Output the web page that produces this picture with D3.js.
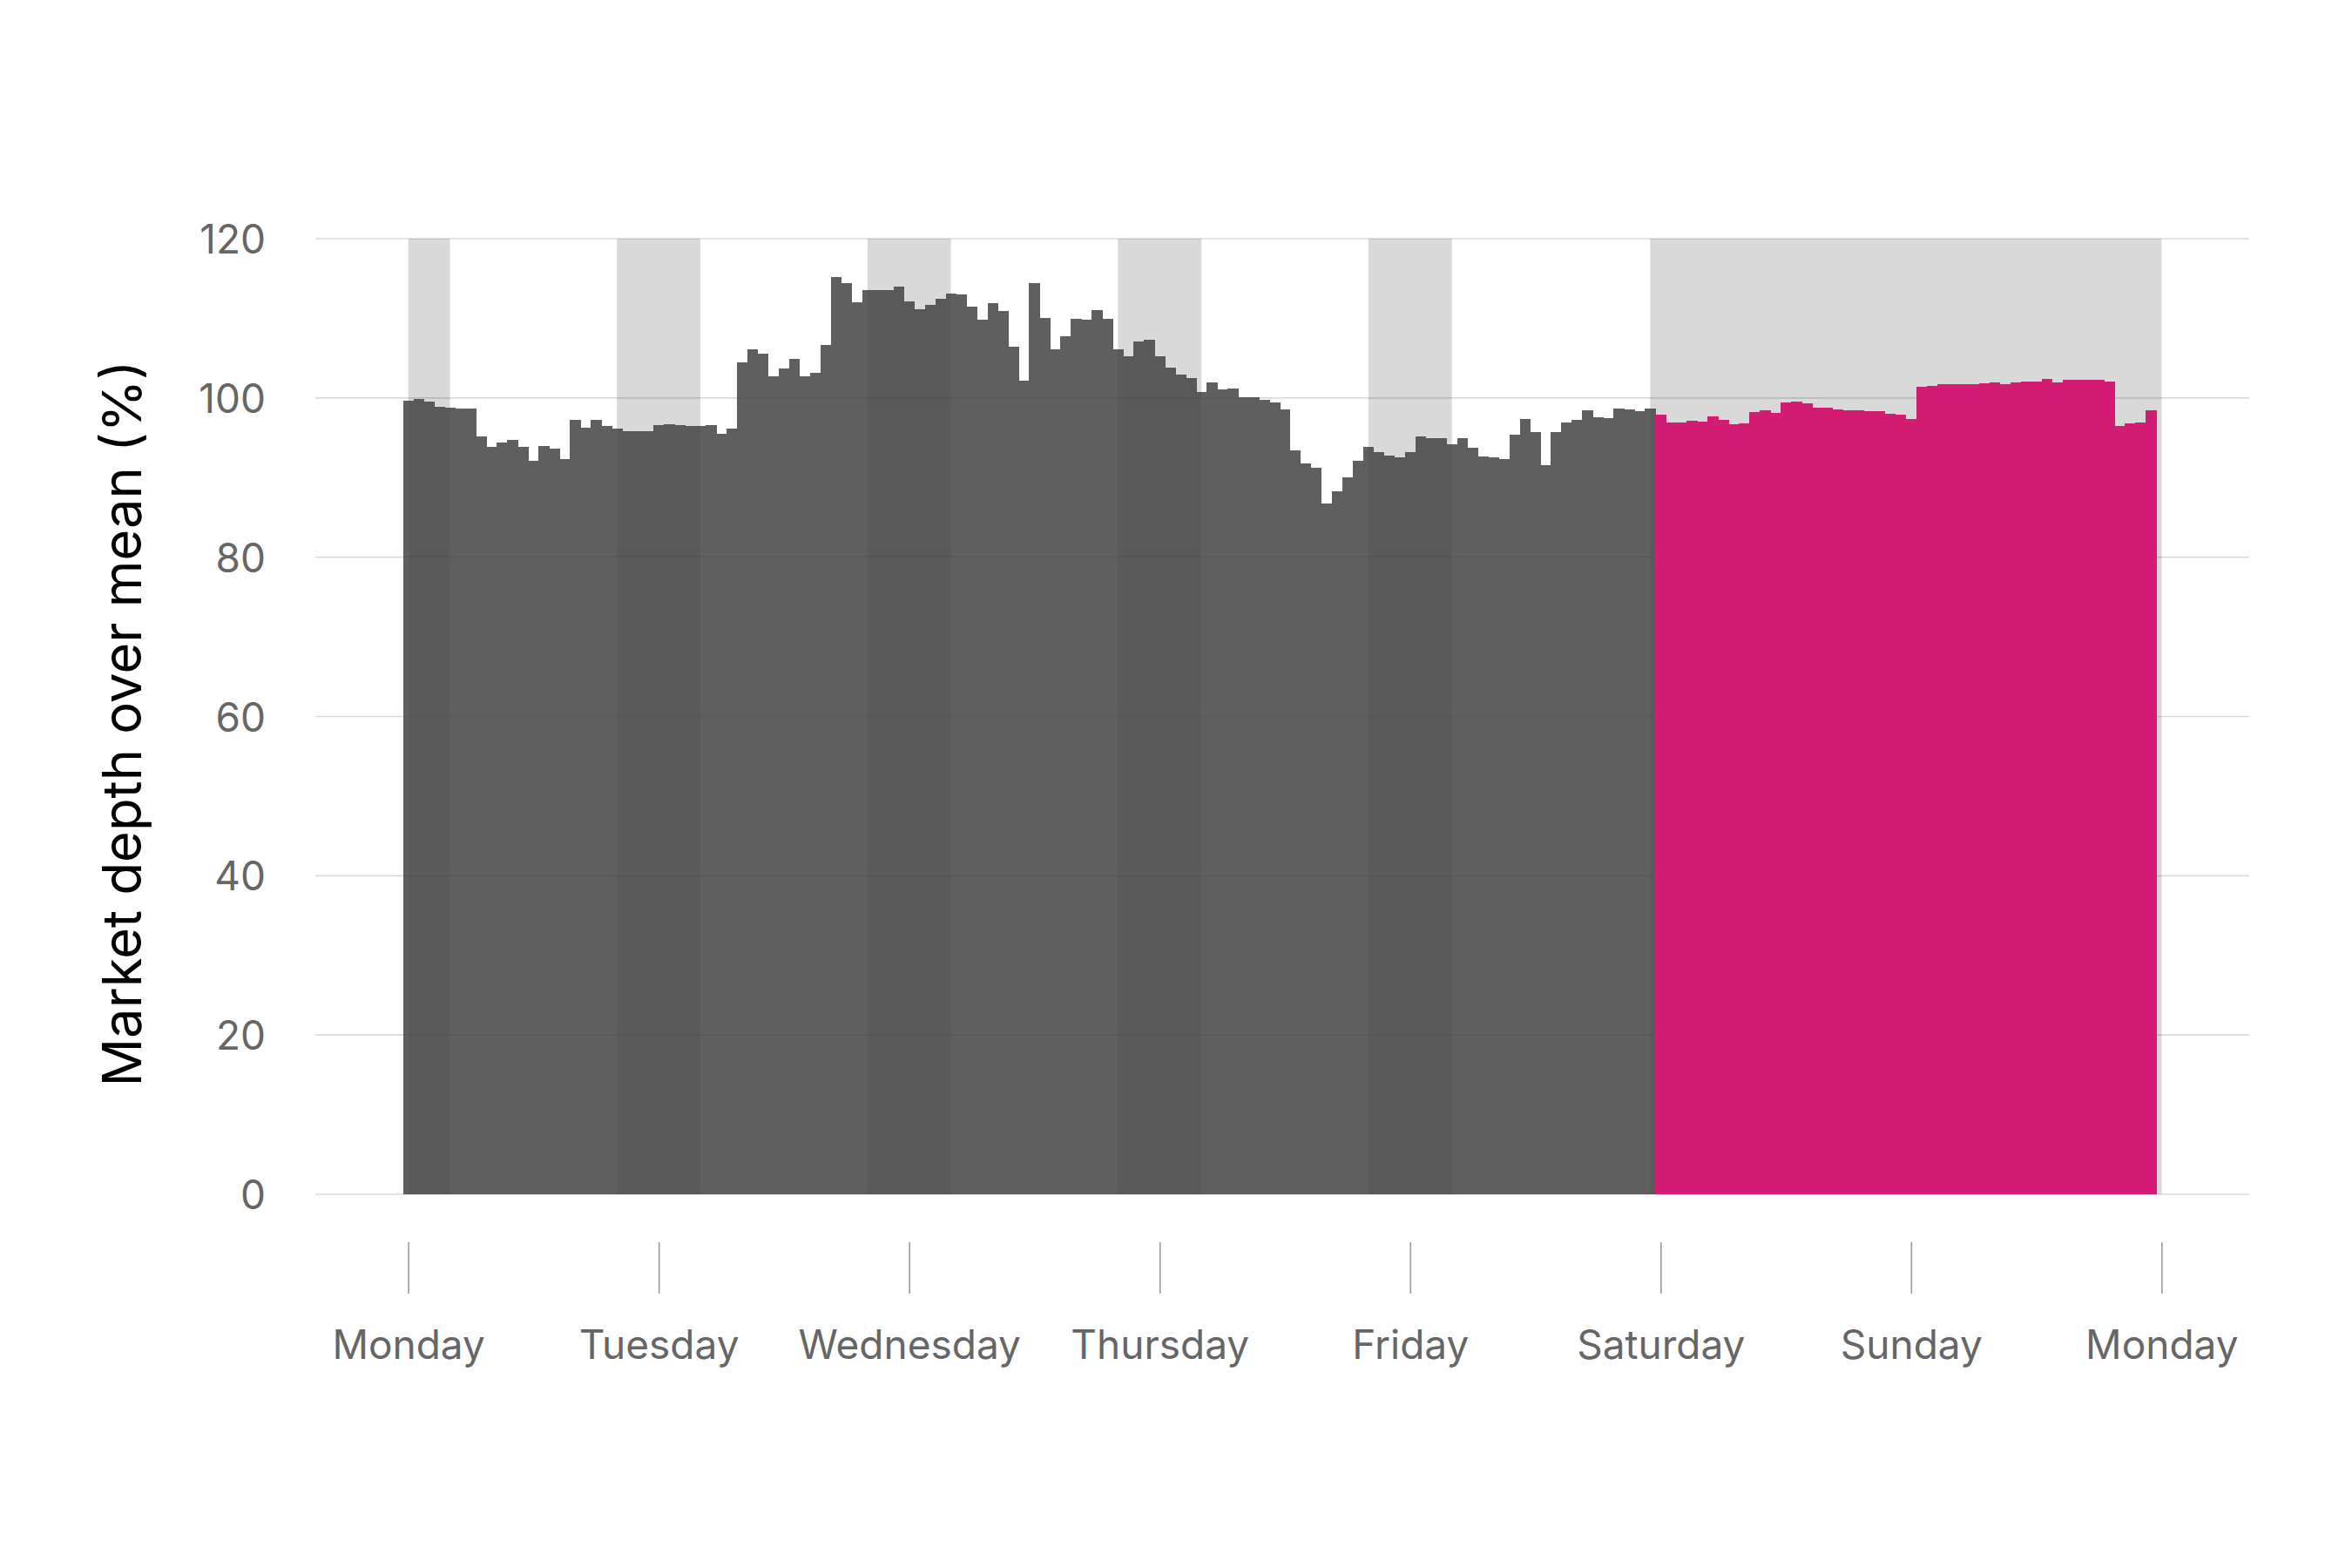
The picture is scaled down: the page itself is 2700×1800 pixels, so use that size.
<!DOCTYPE html>
<html>
<head>
<meta charset="utf-8">
<script src="https://cdn.jsdelivr.net/npm/d3@7"></script>
<style>
  body { margin: 0; background: #fff; }
  svg { display: block; font-family: Inter, "Noto Sans", sans-serif; }
</style>
</head>
<body>
<script>
// hourly market depth over mean (%), Monday 00:00 .. Sunday 23:00
const depth = [
  99.6, 99.85, 99.5, 98.9, 98.8, 98.7, 98.7, 95.2, 93.9, 94.4, 94.7, 93.9,
  92.1, 94.0, 93.6, 92.3, 97.2, 96.3, 97.3, 96.5, 96.2, 95.8, 95.8, 95.8,
  96.6, 96.7, 96.6, 96.5, 96.5, 96.6, 95.5, 96.1, 104.5, 106.1, 105.6, 102.7,
  103.7, 104.9, 102.7, 103.2, 106.6, 115.2, 114.4, 112.0, 113.5, 113.6, 113.5, 114.0,
  112.1, 111.1, 111.7, 112.4, 113.1, 113.0, 111.5, 109.8, 111.9, 110.9, 106.4, 102.2,
  114.4, 110.0, 106.1, 107.7, 109.9, 109.8, 111.0, 109.9, 106.1, 105.2, 107.1, 107.3,
  105.2, 103.8, 102.9, 102.5, 100.8, 102.0, 101.1, 101.2, 100.1, 100.1, 99.8, 99.4,
  98.6, 93.4, 91.8, 91.2, 86.7, 88.3, 90.0, 92.1, 93.9, 93.2, 92.8, 92.5,
  93.2, 95.2, 94.9, 95.0, 94.2, 94.9, 93.8, 92.6, 92.5, 92.3, 95.4, 97.4,
  95.7, 91.6, 95.7, 96.9, 97.3, 98.4, 97.6, 97.5, 98.7, 98.6, 98.3, 98.7,
  97.9, 96.9, 96.9, 97.1, 97.0, 97.7, 97.3, 96.7, 96.8, 98.2, 98.5, 98.1,
  99.4, 99.5, 99.3, 98.8, 98.8, 98.6, 98.5, 98.5, 98.3, 98.3, 98.0, 97.9,
  97.4, 101.4, 101.5, 101.7, 101.7, 101.7, 101.7, 101.8, 101.9, 101.7, 102.0, 102.1,
  102.1, 102.4, 102.0, 102.3, 102.3, 102.3, 102.3, 102.1, 96.5, 96.8, 96.9, 98.5
];
const dayLabels = ["Monday", "Tuesday", "Wednesday", "Thursday", "Friday", "Saturday", "Sunday", "Monday"];
const dayHours = [0, 24, 48, 72, 96, 120, 144, 168];
const yTicks = [0, 20, 40, 60, 80, 100, 120];
// shaded night hours (start, end) and the weekend
const nightBands = [[0, 4], [20, 28], [44, 52], [68, 76], [92, 100]];
const weekendBand = [119, 168];
const weekendStart = 120;

const width = 2700, height = 1800;
const plot = { left: 362, right: 2582, top: 274, bottom: 1371 };

const svg = d3.select('body')
  .append('svg')
  .attr('width', width)
  .attr('height', height);

const x = d3.scaleLinear()
  .domain([-8.9, 176.4])
  .range([plot.left, plot.right]);

const y = d3.scaleLinear()
  .domain([0, 120])
  .range([plot.bottom, plot.top]);

// shaded bands
const bands = nightBands.concat([weekendBand]);
svg.append('g')
  .selectAll('rect')
  .data(bands)
  .enter()
  .append('rect')
  .attr('x', d => x(d[0]))
  .attr('width', d => x(d[1]) - x(d[0]))
  .attr('y', y(120))
  .attr('height', y(0) - y(120))
  .style('fill', '#d9d9d9');

// horizontal grid
svg.append('g')
  .selectAll('line')
  .data(yTicks)
  .enter()
  .append('line')
  .attr('x1', plot.left)
  .attr('x2', plot.right)
  .attr('y1', d => y(d))
  .attr('y2', d => y(d))
  .style('stroke', '#000')
  .style('stroke-opacity', 0.14)
  .style('stroke-width', 1.6);

// weekday bars (semi-transparent so the bands show through)
const hours = depth.map((v, i) => ({ h: i, v }));
svg.append('g')
  .attr('opacity', 0.842)
  .selectAll('rect')
  .data(hours.filter(d => d.h < weekendStart))
  .enter()
  .append('rect')
  .attr('x', d => x(d.h - 0.5))
  .attr('width', d => x(d.h + 0.5) - x(d.h - 0.5) + 0.5)
  .attr('y', d => y(d.v))
  .attr('height', d => y(0) - y(d.v))
  .attr('shape-rendering', 'crispEdges')
  .style('fill', '#424242');

// weekend bars
svg.append('g')
  .selectAll('rect')
  .data(hours.filter(d => d.h >= weekendStart))
  .enter()
  .append('rect')
  .attr('x', d => x(d.h - 0.5))
  .attr('width', d => x(d.h + 0.5) - x(d.h - 0.5) + 0.5)
  .attr('y', d => y(d.v))
  .attr('height', d => y(0) - y(d.v))
  .attr('shape-rendering', 'crispEdges')
  .style('fill', '#d31c74');

// x axis: day ticks
const xAxis = svg.append('g')
  .attr('transform', 'translate(0,1426)')
  .call(d3.axisBottom(x)
    .tickValues(dayHours)
    .tickSize(59)
    .tickFormat((d, i) => dayLabels[i]));
xAxis.select('.domain').remove();
xAxis.selectAll('.tick line')
  .style('stroke', '#9a9a9a')
  .style('stroke-width', 1.6);
xAxis.selectAll('.tick text')
  .attr('y', 134)
  .attr('dy', 0)
  .style('font-family', 'Inter')
  .style('font-size', '46px')
  .style('fill', '#666');

// y axis: labels only
const yAxis = svg.append('g')
  .attr('transform', 'translate(305,0)')
  .call(d3.axisLeft(y)
    .tickValues(yTicks)
    .tickSize(0)
    .tickPadding(0));
yAxis.select('.domain').remove();
yAxis.selectAll('.tick text')
  .attr('dy', '0.36em')
  .style('font-family', 'Inter')
  .style('font-size', '46px')
  .style('fill', '#666');

// y axis title
svg.append('text')
  .attr('transform', `translate(162,${(plot.top + plot.bottom) / 2 + 8}) rotate(-90)`)
  .attr('text-anchor', 'middle')
  .style('font-family', 'Inter')
  .style('font-size', '61.5px')
  .style('fill', '#000')
  .text('Market depth over mean (%)');
</script>
</body>
</html>
